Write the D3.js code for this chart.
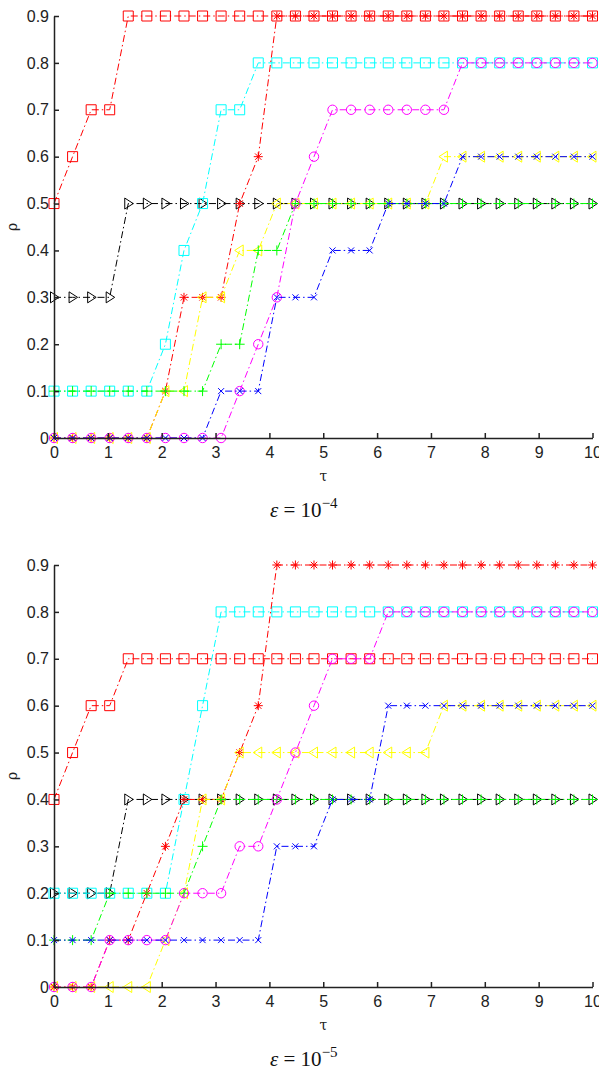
<!DOCTYPE html>
<html>
<head>
<meta charset="utf-8">
<script src="https://cdn.jsdelivr.net/npm/d3@7"></script>
<style>
  body { margin: 0; background: #fff; }
  svg { display: block; }
  .tick text { font-family: "Liberation Sans", Arial, sans-serif; font-size: 16px; fill: #222; }
  .domain, .tick line { stroke: #222; stroke-width: 1.5; }
</style>
</head>
<body>
<svg id="chart" width="599" height="1074"></svg>
<script>
// tau grid (30 points between 0 and 10)
var tau = [0, 0.345, 0.690, 1.034, 1.379, 1.724, 2.069, 2.414, 2.759, 3.103,
           3.448, 3.793, 4.138, 4.483, 4.828, 5.172, 5.517, 5.862, 6.207, 6.552,
           6.897, 7.241, 7.586, 7.931, 8.276, 8.621, 8.966, 9.310, 9.655, 10];

var xTicks = [0, 1, 2, 3, 4, 5, 6, 7, 8, 9, 10];
var yTicks = [0, 0.1, 0.2, 0.3, 0.4, 0.5, 0.6, 0.7, 0.8, 0.9];

var seriesNames = ["redSquare", "blackTriangle", "cyanSquare", "redStar",
                   "yellowTriangle", "greenPlus", "magentaCircle", "blueCross"];

// epsilon = 1e-4
var redSquare4 = [0.5, 0.6, 0.7, 0.7, 0.9, 0.9, 0.9, 0.9, 0.9, 0.9,
                  0.9, 0.9, 0.9, 0.9, 0.9, 0.9, 0.9, 0.9, 0.9, 0.9,
                  0.9, 0.9, 0.9, 0.9, 0.9, 0.9, 0.9, 0.9, 0.9, 0.9];
var blackTriangle4 = [0.3, 0.3, 0.3, 0.3, 0.5, 0.5, 0.5, 0.5, 0.5, 0.5,
                      0.5, 0.5, 0.5, 0.5, 0.5, 0.5, 0.5, 0.5, 0.5, 0.5,
                      0.5, 0.5, 0.5, 0.5, 0.5, 0.5, 0.5, 0.5, 0.5, 0.5];
var cyanSquare4 = [0.1, 0.1, 0.1, 0.1, 0.1, 0.1, 0.2, 0.4, 0.5, 0.7,
                   0.7, 0.8, 0.8, 0.8, 0.8, 0.8, 0.8, 0.8, 0.8, 0.8,
                   0.8, 0.8, 0.8, 0.8, 0.8, 0.8, 0.8, 0.8, 0.8, 0.8];
var redStar4 = [0, 0, 0, 0, 0, 0, 0.1, 0.3, 0.3, 0.3,
                0.5, 0.6, 0.9, 0.9, 0.9, 0.9, 0.9, 0.9, 0.9, 0.9,
                0.9, 0.9, 0.9, 0.9, 0.9, 0.9, 0.9, 0.9, 0.9, 0.9];
var yellowTriangle4 = [0, 0, 0, 0, 0, 0, 0.1, 0.1, 0.3, 0.3,
                       0.4, 0.4, 0.5, 0.5, 0.5, 0.5, 0.5, 0.5, 0.5, 0.5,
                       0.5, 0.6, 0.6, 0.6, 0.6, 0.6, 0.6, 0.6, 0.6, 0.6];
var greenPlus4 = [0.1, 0.1, 0.1, 0.1, 0.1, 0.1, 0.1, 0.1, 0.1, 0.2,
                  0.2, 0.4, 0.4, 0.5, 0.5, 0.5, 0.5, 0.5, 0.5, 0.5,
                  0.5, 0.5, 0.5, 0.5, 0.5, 0.5, 0.5, 0.5, 0.5, 0.5];
var magentaCircle4 = [0, 0, 0, 0, 0, 0, 0, 0, 0, 0,
                      0.1, 0.2, 0.3, 0.5, 0.6, 0.7, 0.7, 0.7, 0.7, 0.7,
                      0.7, 0.7, 0.8, 0.8, 0.8, 0.8, 0.8, 0.8, 0.8, 0.8];
var blueCross4 = [0, 0, 0, 0, 0, 0, 0, 0, 0, 0.1,
                  0.1, 0.1, 0.3, 0.3, 0.3, 0.4, 0.4, 0.4, 0.5, 0.5,
                  0.5, 0.5, 0.6, 0.6, 0.6, 0.6, 0.6, 0.6, 0.6, 0.6];

// epsilon = 1e-5
var redSquare5 = [0.4, 0.5, 0.6, 0.6, 0.7, 0.7, 0.7, 0.7, 0.7, 0.7,
                  0.7, 0.7, 0.7, 0.7, 0.7, 0.7, 0.7, 0.7, 0.7, 0.7,
                  0.7, 0.7, 0.7, 0.7, 0.7, 0.7, 0.7, 0.7, 0.7, 0.7];
var blackTriangle5 = [0.2, 0.2, 0.2, 0.2, 0.4, 0.4, 0.4, 0.4, 0.4, 0.4,
                      0.4, 0.4, 0.4, 0.4, 0.4, 0.4, 0.4, 0.4, 0.4, 0.4,
                      0.4, 0.4, 0.4, 0.4, 0.4, 0.4, 0.4, 0.4, 0.4, 0.4];
var cyanSquare5 = [0.2, 0.2, 0.2, 0.2, 0.2, 0.2, 0.2, 0.4, 0.6, 0.8,
                   0.8, 0.8, 0.8, 0.8, 0.8, 0.8, 0.8, 0.8, 0.8, 0.8,
                   0.8, 0.8, 0.8, 0.8, 0.8, 0.8, 0.8, 0.8, 0.8, 0.8];
var redStar5 = [0, 0, 0, 0.1, 0.1, 0.2, 0.3, 0.4, 0.4, 0.4,
                0.5, 0.6, 0.9, 0.9, 0.9, 0.9, 0.9, 0.9, 0.9, 0.9,
                0.9, 0.9, 0.9, 0.9, 0.9, 0.9, 0.9, 0.9, 0.9, 0.9];
var yellowTriangle5 = [0, 0, 0, 0, 0, 0, 0.1, 0.2, 0.4, 0.4,
                       0.5, 0.5, 0.5, 0.5, 0.5, 0.5, 0.5, 0.5, 0.5, 0.5,
                       0.5, 0.6, 0.6, 0.6, 0.6, 0.6, 0.6, 0.6, 0.6, 0.6];
var greenPlus5 = [0.1, 0.1, 0.1, 0.2, 0.2, 0.2, 0.2, 0.2, 0.3, 0.4,
                  0.4, 0.4, 0.4, 0.4, 0.4, 0.4, 0.4, 0.4, 0.4, 0.4,
                  0.4, 0.4, 0.4, 0.4, 0.4, 0.4, 0.4, 0.4, 0.4, 0.4];
var magentaCircle5 = [0, 0, 0, 0.1, 0.1, 0.1, 0.1, 0.2, 0.2, 0.2,
                      0.3, 0.3, 0.4, 0.5, 0.6, 0.7, 0.7, 0.7, 0.8, 0.8,
                      0.8, 0.8, 0.8, 0.8, 0.8, 0.8, 0.8, 0.8, 0.8, 0.8];
var blueCross5 = [0.1, 0.1, 0.1, 0.1, 0.1, 0.1, 0.1, 0.1, 0.1, 0.1,
                  0.1, 0.1, 0.3, 0.3, 0.3, 0.4, 0.4, 0.4, 0.6, 0.6,
                  0.6, 0.6, 0.6, 0.6, 0.6, 0.6, 0.6, 0.6, 0.6, 0.6];

// drawing styles per series (MATLAB-like colours and markers)
var seriesStyle = {
  redSquare:      {color: "#ff0000", marker: "square"},
  blackTriangle:  {color: "#000000", marker: "triRight"},
  cyanSquare:     {color: "#00ffff", marker: "square"},
  redStar:        {color: "#ff0000", marker: "star"},
  yellowTriangle: {color: "#ffff00", marker: "triLeft"},
  greenPlus:      {color: "#00ff00", marker: "plus"},
  magentaCircle:  {color: "#ff00ff", marker: "circle"},
  blueCross:      {color: "#0000ff", marker: "cross"}
};

var markerPath = {
  square:   "M-5,-5H5V5H-5Z",
  circle:   "M4.7,0A4.7,4.7 0 1,1 -4.7,0A4.7,4.7 0 1,1 4.7,0Z",
  triRight: "M-3.5,-5.5L5,0L-3.5,5.5Z",
  triLeft:  "M3.5,-5.5L-5,0L3.5,5.5Z",
  plus:     "M-5,0H5M0,-5V5",
  cross:    "M-3,-3L3,3M-3,3L3,-3",
  star:     "M-4.5,0H4.5M0,-4.5V4.5M-3.2,-3.2L3.2,3.2M-3.2,3.2L3.2,-3.2"
};

var panels = [
  {top: 16, bottom: 438, exponent: "4",
   values: [redSquare4, blackTriangle4, cyanSquare4, redStar4,
            yellowTriangle4, greenPlus4, magentaCircle4, blueCross4]},
  {top: 565, bottom: 987, exponent: "5",
   values: [redSquare5, blackTriangle5, cyanSquare5, redStar5,
            yellowTriangle5, greenPlus5, magentaCircle5, blueCross5]}
];

var svg = d3.select("#chart");
var left = 54, right = 592.5;

panels.forEach(drawPanel);

function drawPanel(panel) {
  var x = d3.scaleLinear().domain([0, 10]).range([left, right]);
  var y = d3.scaleLinear().domain([0, 0.9]).range([panel.bottom, panel.top]);

  var g = svg.append("g");

  var line = d3.line()
    .x(function(d, i) { return x(tau[i]); })
    .y(function(d) { return y(d); });

  seriesNames.forEach(function(name, k) {
    var vals = panel.values[k];
    var st = seriesStyle[name];
    var sg = g.append("g").attr("class", "series " + name);

    sg.append("path")
      .datum(vals)
      .attr("d", line)
      .attr("fill", "none")
      .attr("stroke", st.color)
      .attr("stroke-width", 1)
      .attr("stroke-dasharray", "7,3,1.5,3");

    sg.selectAll(".mark")
      .data(vals)
      .enter().append("path")
      .attr("class", "mark")
      .attr("transform", function(d, i) { return "translate(" + x(tau[i]) + "," + y(d) + ")"; })
      .attr("d", markerPath[st.marker])
      .attr("fill", "none")
      .attr("stroke", st.color)
      .attr("stroke-width", 1);
  });

  var xAxis = d3.axisBottom(x).tickValues(xTicks).tickFormat(d3.format("d"))
    .tickSizeInner(-5).tickSizeOuter(0).tickPadding(9);
  var yAxis = d3.axisLeft(y).tickValues(yTicks).tickFormat(function(d) { return d === 0 ? "0" : d3.format(".1f")(d); })
    .tickSizeInner(-5).tickSizeOuter(0).tickPadding(5);

  g.append("g")
    .attr("transform", "translate(0," + panel.bottom + ")")
    .call(xAxis);

  g.append("g")
    .attr("transform", "translate(" + left + ",0)")
    .call(yAxis);

  // axis labels
  g.append("text")
    .attr("x", x(5))
    .attr("y", panel.bottom + 43)
    .attr("text-anchor", "middle")
    .style("font-family", "'DejaVu Serif', serif")
    .style("font-size", "14px")
    .style("fill", "#222")
    .text("τ");

  g.append("text")
    .attr("transform", "translate(17," + ((panel.top + panel.bottom) / 2) + ") rotate(-90)")
    .attr("text-anchor", "middle")
    .style("font-family", "'DejaVu Serif', serif")
    .style("font-size", "14px")
    .style("fill", "#222")
    .text("ρ");

  // caption: epsilon = 10^-k
  var cap = g.append("text")
    .attr("x", 270)
    .attr("y", panel.bottom + 79)
    .style("font-family", "'Liberation Serif', serif")
    .style("font-size", "21px")
    .style("fill", "#111");
  cap.append("tspan").style("font-style", "italic").text("ε");
  cap.append("tspan").text(" = 10");
  cap.append("tspan").attr("dy", -9).style("font-size", "15px").text("−" + panel.exponent);
}
</script>
</body>
</html>
